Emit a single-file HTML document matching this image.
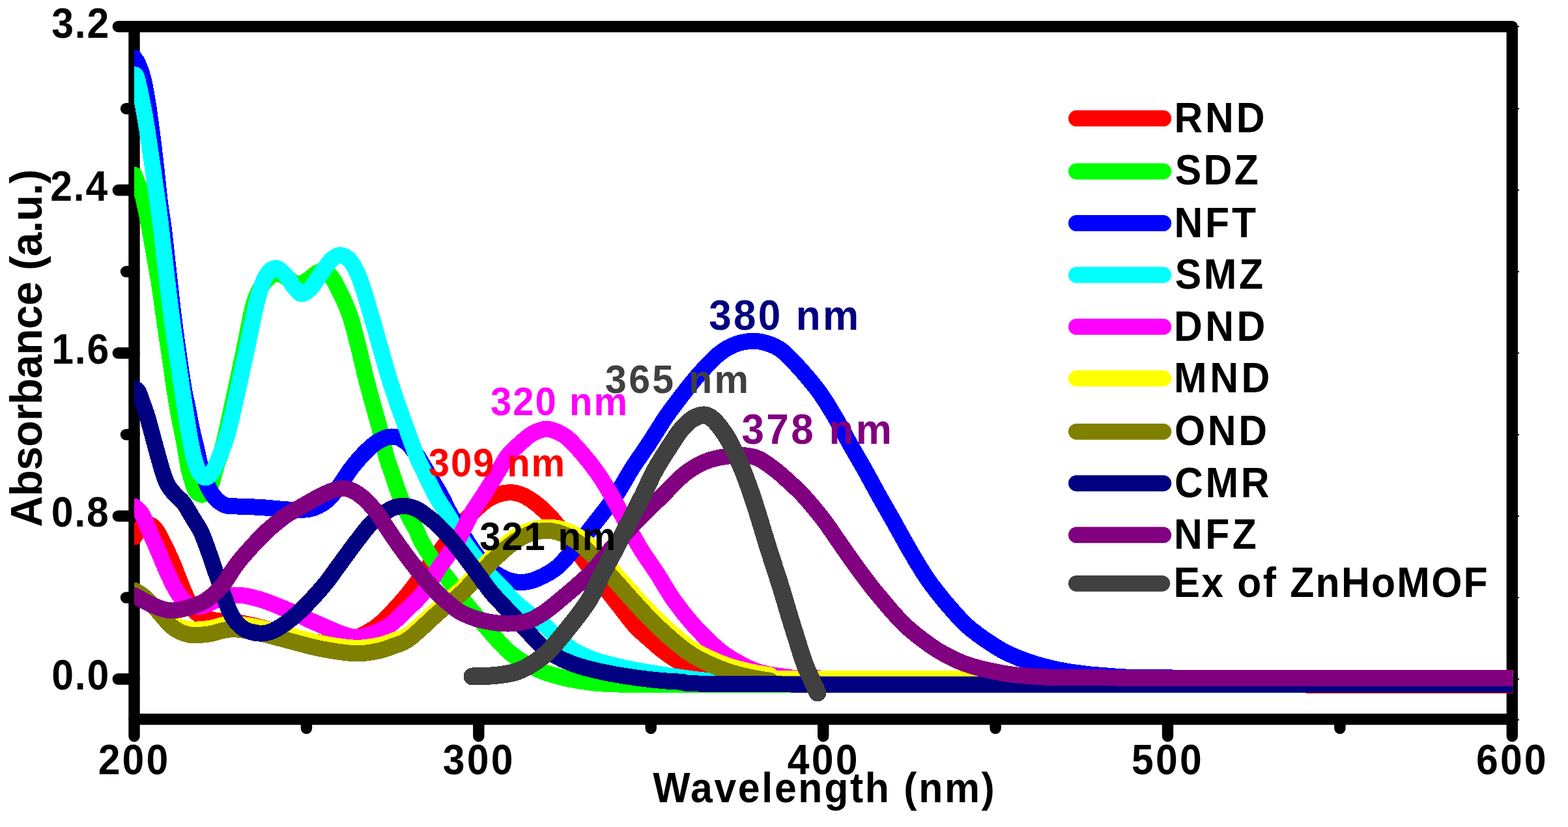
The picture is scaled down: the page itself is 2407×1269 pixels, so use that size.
<!DOCTYPE html>
<html lang="en"><head><meta charset="utf-8"><title>UV-vis absorbance spectra</title>
<style>html,body{margin:0;padding:0;background:#fff}body{width:2407px;height:1269px;overflow:hidden}svg{display:block}text{font-family:"Liberation Sans",sans-serif;font-weight:bold;white-space:pre}</style>
</head><body>
<svg width="2407" height="1269" viewBox="0 0 2407 1269">
<rect width="2407" height="1269" fill="#fff"/>
<defs><clipPath id="plot"><rect x="206.0" y="40.7" width="2116.8" height="1062.9"/></clipPath></defs>
<g fill="none" stroke="#000" stroke-width="17.4" stroke-linecap="round">
<path d="M181.3,40.7H206.0M193.5,166.7H206.0M181.3,291.8H206.0M193.5,416.8H206.0M181.3,541.8H206.0M193.5,666.9H206.0M181.3,791.9H206.0M193.5,917.0H206.0M181.3,1042.0H206.0M206.0,1103.6V1129.7M470.4,1103.6V1117.6M734.8,1103.6V1129.7M999.2,1103.6V1117.6M1263.7,1103.6V1129.7M1528.1,1103.6V1117.6M1792.5,1103.6V1129.7M2056.9,1103.6V1117.6M2321.3,1103.6V1129.7"/>
</g>
<path d="M2329,40.7h3M2329,166.7h3M2329,291.8h3M2329,416.8h3M2329,541.8h3M2329,666.9h3M2329,791.9h3M2329,917.0h3M2329,1042.0h3M2329,1104.6h3" fill="none" stroke="#000" stroke-width="2"/>
<rect x="206.0" y="40.7" width="2115.3" height="1062.9" fill="none" stroke="#000" stroke-width="17.4" stroke-linejoin="round"/>
<g clip-path="url(#plot)" fill="none" stroke-linecap="round" stroke-linejoin="round" shape-rendering="crispEdges">
<path d="M206.0,824.0C207.5,821.8 211.8,814.2 215.0,811.0C218.2,807.8 221.8,805.7 225.0,805.0C228.2,804.3 230.8,804.5 234.0,807.0C237.2,809.5 239.3,811.7 244.0,820.0C248.7,828.3 256.8,845.5 262.0,857.0C267.2,868.5 270.8,878.7 275.0,889.0C279.2,899.3 283.2,910.5 287.5,919.0C291.8,927.5 294.8,934.7 301.0,940.0C307.2,945.3 316.8,948.8 325.0,951.0C333.2,953.2 342.5,952.2 350.0,953.0C357.5,953.8 363.8,954.9 370.0,956.0C376.2,957.1 378.7,957.5 387.0,959.5C395.3,961.5 409.5,965.1 420.0,968.0C430.5,970.9 440.0,974.2 450.0,977.0C460.0,979.8 470.0,982.8 480.0,984.5C490.0,986.2 500.8,987.7 510.0,987.5C519.2,987.3 527.0,985.8 535.0,983.5C543.0,981.2 550.5,977.4 558.0,973.5C565.5,969.6 572.8,965.6 580.0,960.0C587.2,954.4 593.1,948.3 601.0,940.0C608.9,931.7 618.0,921.8 627.5,910.0C637.0,898.2 649.9,879.8 658.0,869.0C666.1,858.2 669.3,853.7 676.0,845.0C682.7,836.3 691.2,825.2 698.0,817.0C704.8,808.8 710.0,802.8 717.0,795.5C724.0,788.2 732.8,778.8 740.0,773.0C747.2,767.2 753.0,763.4 760.0,760.5C767.0,757.6 775.3,755.9 782.0,755.6C788.7,755.4 794.0,756.8 800.0,759.0C806.0,761.2 811.8,764.7 818.0,769.0C824.2,773.3 830.7,778.8 837.0,785.0C843.3,791.2 847.2,795.0 856.0,806.0C864.8,817.0 878.5,835.8 890.0,851.0C901.5,866.2 915.0,884.0 925.0,897.0C935.0,910.0 941.8,918.5 950.0,929.0C958.2,939.5 966.7,951.3 974.5,960.0C982.3,968.7 989.5,974.3 997.0,981.0C1004.5,987.7 1011.4,994.0 1019.4,1000.0C1027.4,1006.0 1035.7,1011.8 1045.0,1017.0C1054.3,1022.2 1064.2,1027.0 1075.0,1031.0C1085.8,1035.0 1095.8,1038.2 1110.0,1041.0C1124.2,1043.8 1141.7,1046.5 1160.0,1048.0C1178.3,1049.5 1196.7,1049.9 1220.0,1050.3C1243.3,1050.7 1186.7,1050.3 1300.0,1050.3C1413.3,1050.3 1775.0,1050.1 1900.0,1050.3C2025.0,1050.5 1978.3,1051.2 2050.0,1051.4C2121.7,1051.6 2283.3,1051.4 2330.0,1051.4" stroke="#ff0000" stroke-width="25.0"/>
<path d="M206.0,268.2C207.0,270.7 209.8,277.7 212.0,283.0C214.2,288.3 216.2,289.7 219.0,300.0C221.8,310.3 225.3,328.3 228.5,345.0C231.7,361.7 235.5,384.2 238.3,400.0C241.1,415.8 242.7,423.3 245.2,440.0C247.7,456.7 250.6,480.0 253.5,500.0C256.4,520.0 260.2,543.3 262.6,560.0C265.1,576.7 266.1,586.7 268.2,600.0C270.3,613.3 272.5,626.7 275.0,640.0C277.5,653.3 280.6,667.0 283.0,680.0C285.4,693.0 287.6,708.5 289.5,718.0C291.4,727.5 292.9,731.3 294.6,737.0C296.4,742.7 297.9,748.4 300.0,752.0C302.1,755.6 304.7,757.5 307.0,758.5C309.3,759.5 311.7,759.4 314.0,758.0C316.3,756.6 319.0,753.3 321.0,750.0C323.0,746.7 324.1,744.0 326.0,738.0C327.9,732.0 330.2,721.5 332.5,714.0C334.8,706.5 337.2,702.7 340.0,693.0C342.8,683.3 343.3,681.5 349.0,656.0C354.7,630.5 367.2,571.8 374.0,540.0C380.8,508.2 384.5,483.0 390.0,465.0C395.5,447.0 401.3,439.5 407.0,432.0C412.7,424.5 418.5,421.0 424.0,420.0C429.5,419.0 434.7,423.3 440.0,426.0C445.3,428.7 450.7,435.3 456.0,436.0C461.3,436.7 466.7,433.0 472.0,430.0C477.3,427.0 483.3,420.0 488.0,418.0C492.7,416.0 495.5,415.2 500.0,418.0C504.5,420.8 508.5,423.0 515.0,435.0C521.5,447.0 530.8,464.3 539.0,490.0C547.2,515.7 556.6,560.7 564.0,589.0C571.4,617.3 578.7,641.5 583.5,660.0C588.3,678.5 590.1,690.0 592.8,700.0C595.5,710.0 596.3,710.0 599.7,720.0C603.1,730.0 609.0,748.3 613.4,760.0C617.8,771.7 622.0,781.2 626.3,790.0C630.6,798.8 635.6,806.3 639.0,813.0C642.4,819.7 642.2,822.5 646.4,830.0C650.6,837.5 657.0,848.2 664.0,858.0C671.0,867.8 679.7,877.4 688.2,888.7C696.7,900.0 706.4,915.0 715.0,926.0C723.6,937.0 732.2,946.0 740.0,955.0C747.8,964.0 754.9,972.5 761.7,980.0C768.5,987.5 773.8,993.8 781.0,1000.0C788.2,1006.2 795.2,1011.5 805.0,1017.0C814.8,1022.5 825.8,1028.3 840.0,1033.0C854.2,1037.7 871.7,1042.2 890.0,1045.0C908.3,1047.8 915.0,1049.2 950.0,1050.0C985.0,1050.8 870.0,1050.0 1100.0,1050.0C1330.0,1050.0 2125.0,1050.0 2330.0,1050.0" stroke="#00ff00" stroke-width="25.0"/>
<path d="M206.0,88.5C207.0,90.1 209.7,92.8 212.0,98.0C214.3,103.2 217.2,109.7 219.7,120.0C222.2,130.3 224.8,145.0 227.2,160.0C229.6,175.0 231.9,193.3 234.0,210.0C236.1,226.7 238.0,242.5 240.0,260.0C242.0,277.5 244.0,298.8 246.0,315.0C248.0,331.2 248.5,327.8 252.0,357.0C255.5,386.2 262.2,451.3 267.0,490.0C271.8,528.7 277.5,566.5 281.0,589.0C284.5,611.5 285.8,613.8 288.0,625.0C290.2,636.2 291.8,645.5 294.0,656.0C296.2,666.5 299.3,678.7 301.5,688.0C303.7,697.3 304.6,703.5 307.0,712.0C309.4,720.5 312.7,731.0 316.0,739.0C319.3,747.0 323.0,754.4 327.0,760.0C331.0,765.6 336.0,769.8 340.0,772.5C344.0,775.2 347.0,775.8 351.0,776.5C355.0,777.2 355.8,776.7 364.0,777.0C372.2,777.3 388.2,777.8 400.0,778.5C411.8,779.2 424.7,780.8 435.0,781.5C445.3,782.2 454.0,782.9 462.0,782.5C470.0,782.1 476.2,781.6 483.0,779.0C489.8,776.4 496.8,772.3 503.0,767.0C509.2,761.7 514.3,754.7 520.0,747.0C525.7,739.3 531.6,728.8 537.4,721.0C543.2,713.2 548.5,706.7 554.8,700.0C561.1,693.3 569.1,685.6 575.0,681.0C580.9,676.4 585.5,674.3 590.0,672.5C594.5,670.7 597.8,669.9 602.0,670.0C606.2,670.1 610.7,670.8 615.0,673.0C619.3,675.2 623.7,678.5 628.0,683.0C632.3,687.5 635.8,692.2 641.0,700.0C646.2,707.8 653.0,720.0 659.0,730.0C665.0,740.0 671.2,750.0 676.7,760.0C682.2,770.0 685.4,778.3 692.0,790.0C698.6,801.7 709.5,819.1 716.5,830.0C723.5,840.9 727.6,847.8 734.0,855.5C740.4,863.2 747.3,870.2 755.0,876.0C762.7,881.8 772.2,887.1 780.0,890.0C787.8,892.9 794.5,893.8 802.0,893.5C809.5,893.2 816.2,891.8 825.0,888.0C833.8,884.2 844.5,879.3 854.5,871.0C864.5,862.7 874.9,849.8 885.0,838.0C895.1,826.2 905.2,813.0 915.3,800.0C925.4,787.0 936.5,773.3 945.5,760.0C954.5,746.7 961.0,733.3 969.5,720.0C978.0,706.7 987.7,693.3 996.5,680.0C1005.3,666.7 1013.5,652.5 1022.1,640.0C1030.7,627.5 1039.2,616.3 1048.0,605.0C1056.8,593.7 1065.5,582.5 1075.0,572.0C1084.5,561.5 1095.8,549.3 1105.0,542.0C1114.2,534.7 1121.5,531.1 1130.0,528.0C1138.5,524.9 1148.0,523.5 1156.0,523.3C1164.0,523.1 1170.8,524.7 1178.0,527.0C1185.2,529.3 1191.5,531.5 1199.0,537.0C1206.5,542.5 1213.1,549.5 1222.7,560.0C1232.3,570.5 1246.5,586.7 1256.4,600.0C1266.3,613.3 1274.1,626.7 1282.0,640.0C1289.9,653.3 1296.5,666.7 1304.0,680.0C1311.5,693.3 1319.5,706.7 1327.0,720.0C1334.5,733.3 1341.5,746.7 1348.9,760.0C1356.4,773.3 1364.2,786.7 1371.7,800.0C1379.2,813.3 1386.3,826.7 1394.0,840.0C1401.7,853.3 1411.7,870.0 1418.0,880.0C1424.3,890.0 1427.0,893.3 1432.0,900.0C1437.0,906.7 1442.3,913.3 1447.8,920.0C1453.3,926.7 1458.9,933.3 1465.0,940.0C1471.1,946.7 1476.7,953.3 1484.2,960.0C1491.7,966.7 1500.4,973.3 1510.0,980.0C1519.6,986.7 1531.1,994.3 1541.9,1000.0C1552.7,1005.7 1563.7,1009.9 1575.0,1014.0C1586.3,1018.1 1597.5,1021.5 1610.0,1024.5C1622.5,1027.5 1635.0,1029.9 1650.0,1032.0C1665.0,1034.1 1675.0,1035.7 1700.0,1037.0C1725.0,1038.3 1695.0,1039.5 1800.0,1040.0C1905.0,1040.5 2241.7,1040.0 2330.0,1040.0" stroke="#0000ff" stroke-width="25.0"/>
<path d="M206.0,115.0C206.7,115.8 208.0,112.5 210.2,120.0C212.4,127.5 216.4,146.7 219.0,160.0C221.6,173.3 222.7,178.5 226.0,200.0C229.3,221.5 235.7,265.7 239.0,289.0C242.3,312.3 241.8,306.5 246.0,340.0C250.2,373.5 257.3,440.2 264.0,490.0C270.7,539.8 280.7,604.8 286.0,639.0C291.3,673.2 292.8,681.0 296.0,695.0C299.2,709.0 301.8,716.7 305.0,723.0C308.2,729.3 312.0,732.8 315.5,733.0C319.0,733.2 322.4,729.5 326.0,724.0C329.6,718.5 332.7,711.3 337.0,700.0C341.3,688.7 345.2,682.7 352.0,656.0C358.8,629.3 371.0,571.8 378.0,540.0C385.0,508.2 389.0,484.3 394.0,465.0C399.0,445.7 403.1,432.9 408.0,424.0C412.9,415.1 418.3,411.7 423.5,411.5C428.7,411.3 434.4,418.2 439.0,423.0C443.6,427.8 447.0,435.3 451.0,440.0C455.0,444.7 458.7,450.6 463.0,451.0C467.3,451.4 471.8,448.0 477.0,442.5C482.2,437.0 488.7,425.3 494.0,418.0C499.3,410.7 504.2,402.9 509.0,398.5C513.8,394.1 517.8,391.3 522.5,391.5C527.2,391.7 532.1,393.6 537.0,399.5C541.9,405.4 546.2,411.9 552.0,427.0C557.8,442.1 563.5,463.0 571.5,490.0C579.5,517.0 591.1,560.7 600.0,589.0C608.9,617.3 618.3,641.5 624.9,660.0C631.5,678.5 635.6,690.0 639.6,700.0C643.6,710.0 644.1,710.0 648.9,720.0C653.7,730.0 662.1,748.3 668.5,760.0C674.9,771.7 680.3,778.3 687.4,790.0C694.5,801.7 703.6,818.7 711.0,830.0C718.4,841.3 724.8,849.2 731.5,858.0C738.2,866.8 744.4,875.2 751.5,883.0C758.6,890.8 768.1,898.8 774.0,905.0C779.9,911.2 780.6,914.2 786.6,920.0C792.6,925.8 801.7,933.3 810.0,940.0C818.3,946.7 828.2,953.0 836.5,960.0C844.8,967.0 852.1,975.3 860.0,982.0C867.9,988.7 874.0,994.5 884.0,1000.0C894.0,1005.5 907.3,1010.8 920.0,1015.0C932.7,1019.2 945.0,1021.8 960.0,1025.0C975.0,1028.2 988.3,1030.7 1010.0,1034.0C1031.7,1037.3 1058.3,1042.3 1090.0,1045.0C1121.7,1047.7 993.3,1049.2 1200.0,1050.0C1406.7,1050.8 2141.7,1050.0 2330.0,1050.0" stroke="#00ffff" stroke-width="25.0"/>
<path d="M206.0,777.0C207.7,778.5 213.0,781.8 216.0,786.0C219.0,790.2 221.4,796.3 224.0,802.0C226.6,807.7 228.7,813.7 231.4,820.0C234.2,826.3 236.2,830.0 240.5,840.0C244.8,850.0 252.1,868.3 257.5,880.0C262.9,891.7 267.6,902.0 273.0,910.0C278.4,918.0 283.8,924.7 290.0,928.0C296.2,931.3 302.5,931.3 310.0,930.0C317.5,928.7 326.0,922.8 335.0,920.0C344.0,917.2 353.2,913.0 364.0,913.0C374.8,913.0 387.5,916.3 400.0,920.0C412.5,923.7 424.0,928.7 439.0,935.0C454.0,941.3 473.2,951.0 490.0,958.0C506.8,965.0 525.8,974.8 540.0,977.0C554.2,979.2 565.0,974.2 575.0,971.0C585.0,967.8 592.6,963.2 600.0,958.0C607.4,952.8 611.4,948.0 619.6,940.0C627.8,932.0 640.1,921.7 649.3,910.0C658.4,898.3 669.0,878.3 674.5,870.0C680.0,861.7 677.4,866.7 682.0,860.0C686.6,853.3 695.6,841.7 702.4,830.0C709.1,818.3 715.9,801.7 722.5,790.0C729.1,778.3 734.6,771.7 742.0,760.0C749.4,748.3 760.6,730.0 766.7,720.0C772.9,710.0 773.5,706.7 778.9,700.0C784.3,693.3 792.5,685.8 799.0,680.0C805.5,674.2 811.3,668.6 818.0,665.0C824.7,661.4 832.2,658.4 839.2,658.4C846.2,658.4 853.3,661.4 860.0,665.0C866.7,668.6 870.6,670.8 879.4,680.0C888.2,689.2 903.1,706.7 913.0,720.0C922.9,733.3 930.8,746.7 938.6,760.0C946.4,773.3 952.8,786.7 960.0,800.0C967.2,813.3 973.9,826.7 982.0,840.0C990.1,853.3 1000.1,866.7 1008.7,880.0C1017.3,893.3 1024.2,906.7 1033.7,920.0C1043.2,933.3 1054.3,947.5 1065.5,960.0C1076.7,972.5 1089.8,985.5 1100.6,994.7C1111.3,1003.9 1119.3,1009.0 1130.0,1015.0C1140.7,1021.0 1151.7,1027.0 1165.0,1031.0C1178.3,1035.0 1194.2,1037.3 1210.0,1039.0C1225.8,1040.7 1073.3,1040.7 1260.0,1041.0C1446.7,1041.3 2151.7,1041.0 2330.0,1041.0" stroke="#ff00ff" stroke-width="25.0"/>
<path d="M206.0,906.0C208.3,907.4 214.3,909.7 220.0,914.5C225.7,919.3 232.5,927.5 240.0,934.6C247.5,941.6 256.7,951.6 265.0,956.8C273.3,961.9 280.8,964.2 290.0,965.5C299.2,966.8 310.8,965.7 320.0,964.5C329.2,963.3 337.5,959.7 345.0,958.5C352.5,957.3 355.8,956.7 365.0,957.5C374.2,958.3 387.7,960.8 400.0,963.5C412.3,966.2 424.0,969.7 439.0,973.5C454.0,977.3 472.5,983.0 490.0,986.5C507.5,990.0 529.0,993.5 544.0,994.2C559.0,994.9 569.8,992.4 580.0,990.5C590.2,988.6 596.9,985.7 605.0,982.8C613.1,979.8 617.3,981.1 628.7,972.9C640.1,964.7 659.9,945.1 673.2,933.5C686.5,921.9 696.4,915.2 708.7,903.5C721.0,891.8 739.2,871.8 747.2,863.5C755.2,855.2 750.4,859.3 756.7,853.5C763.0,847.7 776.1,835.1 785.0,828.6C793.9,822.2 800.9,818.0 810.0,814.8C819.1,811.5 829.9,809.4 839.9,809.3C849.9,809.2 860.0,810.4 870.0,814.2C880.0,818.1 889.2,823.3 900.0,832.5C910.8,841.7 922.8,856.7 934.5,869.5C946.2,882.3 957.8,896.1 970.0,909.5C982.2,922.9 993.9,936.1 1008.0,949.7C1022.1,963.3 1041.2,980.7 1054.9,990.9C1068.6,1001.0 1077.5,1004.7 1090.0,1010.4C1102.5,1016.2 1115.0,1021.2 1130.0,1025.3C1145.0,1029.5 1158.3,1032.9 1180.0,1035.6C1201.7,1038.3 1068.3,1040.7 1260.0,1041.7C1451.7,1042.7 2151.7,1041.7 2330.0,1041.7" stroke="#ffff00" stroke-width="25.0"/>
<path d="M206.0,906.0C208.3,907.4 214.3,909.7 220.0,914.5C225.7,919.3 232.5,927.0 240.0,935.0C247.5,943.0 256.7,956.0 265.0,962.5C273.3,969.0 280.8,972.2 290.0,974.0C299.2,975.8 310.8,974.2 320.0,973.0C329.2,971.8 337.5,968.2 345.0,967.0C352.5,965.8 355.8,965.2 365.0,966.0C374.2,966.8 387.7,969.3 400.0,972.0C412.3,974.7 424.0,978.2 439.0,982.0C454.0,985.8 472.5,991.5 490.0,995.0C507.5,998.5 529.0,1002.0 544.0,1002.7C559.0,1003.4 569.8,1001.0 580.0,999.0C590.2,997.0 596.9,994.2 605.0,991.0C613.1,987.8 617.3,988.5 628.7,980.0C640.1,971.5 659.9,951.7 673.2,940.0C686.5,928.3 696.4,921.7 708.7,910.0C721.0,898.3 739.2,878.3 747.2,870.0C755.2,861.7 750.4,865.8 756.7,860.0C763.0,854.2 776.1,841.6 785.0,835.0C793.9,828.4 800.9,824.0 810.0,820.5C819.1,817.0 829.9,814.0 839.9,814.3C849.9,814.5 860.0,817.2 870.0,822.0C880.0,826.8 889.2,833.3 900.0,843.0C910.8,852.7 922.8,867.2 934.5,880.0C946.2,892.8 957.8,906.7 970.0,920.0C982.2,933.3 993.9,946.7 1008.0,960.0C1022.1,973.3 1041.2,990.1 1054.9,1000.0C1068.6,1009.9 1077.5,1013.6 1090.0,1019.3C1102.5,1025.0 1115.0,1029.9 1130.0,1034.0C1145.0,1038.1 1158.3,1041.3 1180.0,1044.0C1201.7,1046.7 1068.3,1049.0 1260.0,1050.0C1451.7,1051.0 2151.7,1050.0 2330.0,1050.0" stroke="#808000" stroke-width="25.0"/>
<path d="M206.0,595.5C207.1,596.4 210.2,596.9 212.4,601.0C214.7,605.1 217.1,613.2 219.5,620.0C221.9,626.8 223.6,630.3 227.0,642.0C230.4,653.7 236.2,676.2 240.0,690.0C243.8,703.8 247.0,715.8 250.0,725.0C253.0,734.2 254.7,739.2 258.0,745.0C261.3,750.8 266.0,755.5 270.0,760.0C274.0,764.5 277.7,766.2 282.0,772.0C286.3,777.8 291.7,787.8 296.0,795.0C300.3,802.2 304.3,807.5 308.0,815.0C311.7,822.5 313.5,827.7 318.0,840.0C322.5,852.3 329.2,872.5 335.0,889.0C340.8,905.5 347.2,926.8 353.0,939.0C358.8,951.2 363.8,956.7 370.0,962.0C376.2,967.3 383.3,969.5 390.0,971.0C396.7,972.5 403.3,972.5 410.0,971.0C416.7,969.5 422.5,966.7 430.0,962.0C437.5,957.3 447.0,950.0 455.0,943.0C463.0,936.0 470.2,928.4 478.0,920.0C485.8,911.6 495.4,900.7 502.0,892.5C508.6,884.3 510.0,881.4 517.7,871.0C525.4,860.6 539.1,841.5 548.0,830.0C556.9,818.5 562.3,810.2 571.0,802.0C579.7,793.8 592.0,785.2 600.0,781.0C608.0,776.8 612.8,776.7 619.0,776.5C625.2,776.3 631.3,777.8 637.0,780.0C642.7,782.2 647.8,786.3 653.0,790.0C658.2,793.7 663.3,797.8 668.0,802.0C672.7,806.2 676.6,810.3 681.0,815.0C685.4,819.7 688.2,822.5 694.4,830.0C700.6,837.5 710.4,850.0 718.0,860.0C725.6,870.0 733.8,881.7 740.0,890.0C746.2,898.3 748.0,901.8 755.0,910.0C762.0,918.2 772.8,929.2 782.0,939.0C791.2,948.8 802.2,960.7 810.0,969.0C817.8,977.3 822.3,983.0 829.0,989.0C835.7,995.0 841.5,1000.0 850.0,1005.0C858.5,1010.0 868.3,1014.8 880.0,1019.0C891.7,1023.2 905.0,1026.7 920.0,1030.0C935.0,1033.3 950.0,1036.3 970.0,1039.0C990.0,1041.7 1001.7,1044.2 1040.0,1046.0C1078.3,1047.8 985.0,1049.2 1200.0,1050.0C1415.0,1050.8 2141.7,1050.4 2330.0,1050.5" stroke="#000080" stroke-width="25.0"/>
<path d="M206.0,913.5C209.2,915.2 218.5,920.8 225.0,924.0C231.5,927.2 238.3,930.8 245.0,933.0C251.7,935.2 257.5,937.2 265.0,937.0C272.5,936.8 281.7,934.5 290.0,932.0C298.3,929.5 306.7,927.3 315.0,922.0C323.3,916.7 331.8,909.5 340.0,900.0C348.2,890.5 355.8,875.7 364.0,865.0C372.2,854.3 382.3,843.5 389.0,836.0C395.7,828.5 400.2,824.2 404.4,820.0C408.6,815.8 408.2,815.8 414.0,811.0C419.8,806.2 430.5,796.8 439.0,791.0C447.5,785.2 456.7,780.8 465.0,776.0C473.3,771.2 481.5,766.3 489.0,762.5C496.5,758.7 503.7,755.2 510.0,753.0C516.3,750.8 521.2,749.0 527.0,749.3C532.8,749.6 539.2,751.9 545.0,755.0C550.8,758.1 556.0,762.2 562.0,768.0C568.0,773.8 575.7,783.0 581.0,790.0C586.3,797.0 589.7,803.5 594.0,810.0C598.3,816.5 601.0,820.8 606.8,829.0C612.6,837.2 621.4,849.5 628.6,859.0C635.8,868.5 642.9,877.5 650.0,886.0C657.1,894.5 665.1,903.5 671.4,910.0C677.7,916.5 681.9,920.0 688.0,925.0C694.1,930.0 699.3,935.5 708.0,940.0C716.7,944.5 728.3,949.2 740.0,952.0C751.7,954.8 766.3,956.8 778.0,957.0C789.7,957.2 800.5,955.8 810.0,953.0C819.5,950.2 826.6,945.5 835.0,940.0C843.4,934.5 848.6,930.0 860.4,920.0C872.2,910.0 892.7,893.3 906.0,880.0C919.3,866.7 928.2,853.3 940.0,840.0C951.8,826.7 967.3,810.2 977.0,800.0C986.7,789.8 991.1,785.8 998.0,779.0C1004.9,772.2 1011.9,765.7 1018.1,759.5C1024.3,753.3 1029.7,747.2 1035.0,742.0C1040.3,736.8 1045.0,732.1 1050.0,728.0C1055.0,723.9 1060.0,720.6 1065.0,717.5C1070.0,714.4 1074.2,711.9 1080.0,709.5C1085.8,707.1 1092.5,704.7 1100.0,703.0C1107.5,701.3 1117.5,700.0 1125.0,699.3C1132.5,698.6 1138.3,698.2 1145.0,699.0C1151.7,699.8 1157.7,700.5 1165.0,704.0C1172.3,707.5 1181.2,714.0 1189.0,720.0C1196.8,726.0 1204.7,733.3 1212.0,740.0C1219.3,746.7 1226.4,753.3 1232.7,760.0C1239.0,766.7 1244.5,773.3 1250.0,780.0C1255.5,786.7 1261.0,793.3 1266.0,800.0C1271.0,806.7 1275.4,813.3 1280.0,820.0C1284.6,826.7 1288.0,831.7 1293.8,840.0C1299.6,848.3 1307.7,860.0 1315.0,870.0C1322.3,880.0 1330.9,891.7 1337.4,900.0C1343.9,908.3 1348.4,913.3 1354.0,920.0C1359.6,926.7 1365.0,933.3 1371.0,940.0C1377.0,946.7 1382.8,953.3 1390.0,960.0C1397.2,966.7 1405.2,973.3 1414.0,980.0C1422.8,986.7 1432.0,993.7 1443.0,1000.0C1454.0,1006.3 1467.2,1013.2 1480.0,1018.0C1492.8,1022.8 1504.3,1025.8 1520.0,1029.0C1535.7,1032.2 1544.2,1035.2 1574.0,1037.0C1603.8,1038.8 1573.0,1039.5 1699.0,1040.0C1825.0,1040.5 2224.8,1040.2 2330.0,1040.3" stroke="#800080" stroke-width="25.0"/>
<path d="M725.0,1038.0C730.8,1037.8 749.2,1037.6 760.0,1036.5C770.8,1035.4 780.8,1034.2 790.0,1031.5C799.2,1028.8 806.4,1025.2 815.0,1020.0C823.6,1014.8 831.3,1010.0 841.4,1000.0C851.5,990.0 864.8,973.3 875.4,960.0C886.0,946.7 896.5,933.3 904.7,920.0C912.9,906.7 917.7,893.3 924.6,880.0C931.5,866.7 939.0,853.3 946.0,840.0C953.0,826.7 959.6,813.3 966.4,800.0C973.2,786.7 980.2,773.3 986.9,760.0C993.5,746.7 998.9,733.3 1006.3,720.0C1013.7,706.7 1024.8,690.0 1031.2,680.0C1037.7,670.0 1040.2,665.8 1045.0,660.0C1049.8,654.2 1055.5,648.6 1060.0,645.0C1064.5,641.4 1068.5,639.8 1072.0,638.5C1075.5,637.2 1078.0,636.8 1081.0,637.0C1084.0,637.2 1086.8,638.0 1090.0,640.0C1093.2,642.0 1096.7,645.3 1100.0,649.0C1103.3,652.7 1106.5,656.8 1110.0,662.0C1113.5,667.2 1116.2,670.3 1121.1,680.0C1126.0,689.7 1134.0,706.7 1139.5,720.0C1145.0,733.3 1149.6,746.7 1154.2,760.0C1158.8,773.3 1162.8,786.7 1166.9,800.0C1171.1,813.3 1173.8,823.3 1179.1,840.0C1184.3,856.7 1193.2,883.3 1198.4,900.0C1203.6,916.7 1206.2,926.7 1210.3,940.0C1214.3,953.3 1218.5,966.7 1222.7,980.0C1227.0,993.3 1230.4,1006.2 1235.8,1020.0C1241.2,1033.8 1251.8,1055.8 1255.0,1063.0" stroke="#404040" stroke-width="27.0"/>
</g>
<g fill="none" stroke-linecap="round" stroke-width="24.8">
<path d="M1652.4,181.7H1785.8" stroke="#ff0000"/>
<path d="M1652.4,263.0H1785.8" stroke="#00ff00"/>
<path d="M1652.4,342.4H1785.8" stroke="#0000ff"/>
<path d="M1652.4,421.9H1785.8" stroke="#00ffff"/>
<path d="M1652.4,501.4H1785.8" stroke="#ff00ff"/>
<path d="M1652.4,580.7H1785.8" stroke="#ffff00"/>
<path d="M1652.4,662.3H1785.8" stroke="#808000"/>
<path d="M1652.4,741.6H1785.8" stroke="#000080"/>
<path d="M1652.4,820.9H1785.8" stroke="#800080"/>
<path d="M1652.4,895.3H1783.8" stroke="#404040"/>
</g>
<text transform="translate(79.20,57.88) scale(1,1.0600)" font-size="60.7px" letter-spacing="1.900" fill="#000">3.2</text>
<text transform="translate(77.20,307.96) scale(1,1.0600)" font-size="60.7px" letter-spacing="1.900" fill="#000">2.4</text>
<text transform="translate(79.20,558.04) scale(1,1.0600)" font-size="60.7px" letter-spacing="1.900" fill="#000">1.6</text>
<text transform="translate(78.70,808.12) scale(1,1.0600)" font-size="60.7px" letter-spacing="1.900" fill="#000">0.8</text>
<text transform="translate(79.20,1058.20) scale(1,1.0600)" font-size="60.7px" letter-spacing="1.900" fill="#000">0.0</text>
<text transform="translate(150.65,1188.10) scale(1,1.0600)" font-size="60.7px" letter-spacing="3.200" fill="#000">200</text>
<text transform="translate(679.73,1188.10) scale(1,1.0600)" font-size="60.7px" letter-spacing="3.200" fill="#000">300</text>
<text transform="translate(1208.80,1188.10) scale(1,1.0600)" font-size="60.7px" letter-spacing="3.200" fill="#000">400</text>
<text transform="translate(1737.12,1188.10) scale(1,1.0600)" font-size="60.7px" letter-spacing="3.200" fill="#000">500</text>
<text transform="translate(2265.95,1188.10) scale(1,1.0600)" font-size="60.7px" letter-spacing="3.200" fill="#000">600</text>
<text transform="translate(1802.40,203.00) scale(1,1.0600)" font-size="60.7px" letter-spacing="3.800" fill="#000">RND</text>
<text transform="translate(1803.70,282.60) scale(1,1.0600)" font-size="60.7px" letter-spacing="3.400" fill="#000">SDZ</text>
<text transform="translate(1802.40,364.00) scale(1,1.0600)" font-size="60.7px" letter-spacing="3.800" fill="#000">NFT</text>
<text transform="translate(1803.70,443.00) scale(1,1.0600)" font-size="60.7px" letter-spacing="3.650" fill="#000">SMZ</text>
<text transform="translate(1802.10,523.00) scale(1,1.0600)" font-size="60.7px" letter-spacing="4.350" fill="#000">DND</text>
<text transform="translate(1802.10,602.40) scale(1,1.0600)" font-size="60.7px" letter-spacing="4.500" fill="#000">MND</text>
<text transform="translate(1802.90,683.30) scale(1,1.0600)" font-size="60.7px" letter-spacing="3.700" fill="#000">OND</text>
<text transform="translate(1802.90,763.20) scale(1,1.0600)" font-size="60.7px" letter-spacing="3.750" fill="#000">CMR</text>
<text transform="translate(1802.10,842.00) scale(1,1.0600)" font-size="60.7px" letter-spacing="4.350" fill="#000">NFZ</text>
<text transform="translate(1801.50,916.20) scale(1,1.0600)" font-size="60.7px" letter-spacing="2.258" fill="#000">Ex of ZnHoMOF</text>
<text transform="translate(1002.20,1230.70) scale(1,1.0600)" font-size="60.7px" letter-spacing="2.714" fill="#000">Wavelength (nm)</text>
<text transform="translate(63.80,808.70) rotate(-90) scale(1,1.0500)" font-size="66px" letter-spacing="-0.531" fill="#000">Absorbance (a.u.)</text>
<text transform="translate(1088.20,506.20) scale(1,1.0400)" font-size="62px" letter-spacing="3.240" fill="#000080">380 nm</text>
<text transform="translate(929.00,602.60) scale(1,1.0400)" font-size="59px" letter-spacing="3.340" fill="#404040">365 nm</text>
<text transform="translate(753.00,637.00) scale(1,1.0400)" font-size="58px" letter-spacing="2.020" fill="#ff00ff">320 nm</text>
<text transform="translate(657.80,730.50) scale(1,1.0400)" font-size="58px" letter-spacing="1.880" fill="#ff0000">309 nm</text>
<text transform="translate(1138.50,680.80) scale(1,1.0400)" font-size="62px" letter-spacing="3.340" fill="#800080">378 nm</text>
<text transform="translate(736.20,844.00) scale(1,1.0400)" font-size="58px" letter-spacing="1.860" fill="#000000">321 nm</text>
</svg></body></html>
